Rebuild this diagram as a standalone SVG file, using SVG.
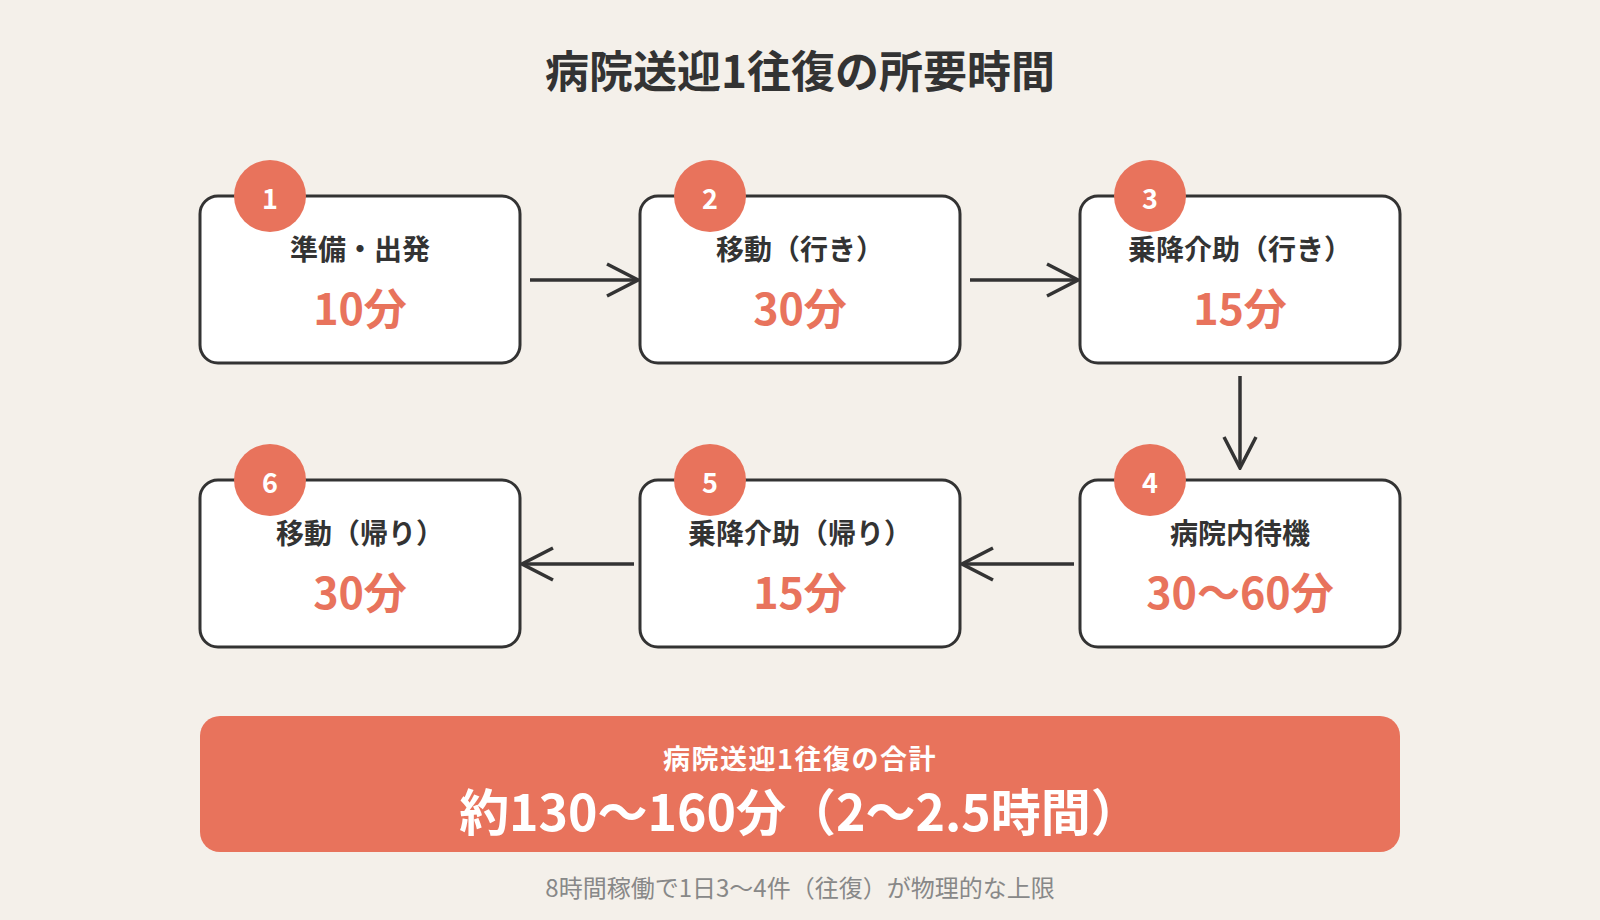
<svg xmlns="http://www.w3.org/2000/svg" width="1600" height="920" viewBox="0 0 1600 920">
<style>
text{font-family:"Noto Sans CJK JP","Noto Sans",sans-serif;text-anchor:middle}
.box{fill:#fff;stroke:#333;stroke-width:3}
.badge{fill:#E8735C}
.num{fill:#fff;font-size:27px;font-weight:700}
.lbl{fill:#333;font-size:28px;font-weight:700}
.val{fill:#E8735C;font-size:43px;font-weight:700}
.conn{stroke:#333;stroke-width:3.5;fill:none}
.title{fill:#333;font-size:44px;font-weight:700}
.sum1{fill:#fff;font-size:27px;font-weight:700;letter-spacing:1.5px}
.sum2{fill:#fff;font-size:50px;font-weight:700}
.foot{fill:#888;font-size:24px}
</style>
<defs>
<marker id="arr" viewBox="0 0 36 36" refX="34" refY="18" markerWidth="36" markerHeight="36" markerUnits="userSpaceOnUse" orient="auto">
<path d="M3,2 L34,18 L3,34" fill="none" stroke="#333" stroke-width="3.5"/>
</marker>
</defs>
<rect width="1600" height="920" fill="#F4F0EA"/>
<text class="title" x="800" y="88">病院送迎1往復の所要時間</text>
<g id="connectors">
<line class="conn" x1="530" y1="280" x2="638" y2="280" marker-end="url(#arr)"/>
<line class="conn" x1="970" y1="280" x2="1078" y2="280" marker-end="url(#arr)"/>
<line class="conn" x1="1240" y1="376" x2="1240" y2="468" marker-end="url(#arr)"/>
<line class="conn" x1="1074" y1="564" x2="962" y2="564" marker-end="url(#arr)"/>
<line class="conn" x1="634" y1="564" x2="522" y2="564" marker-end="url(#arr)"/>
</g>
<g id="step1">
<rect class="box" x="200" y="196" width="320" height="167" rx="18"/>
<circle class="badge" cx="270" cy="196" r="36"/>
<text class="num" x="270" y="209">1</text>
<text class="lbl" x="360" y="260">準備・出発</text>
<text class="val" x="360" y="325">10分</text>
</g>
<g id="step2">
<rect class="box" x="640" y="196" width="320" height="167" rx="18"/>
<circle class="badge" cx="710" cy="196" r="36"/>
<text class="num" x="710" y="209">2</text>
<text class="lbl" x="800" y="260">移動（行き）</text>
<text class="val" x="800" y="325">30分</text>
</g>
<g id="step3">
<rect class="box" x="1080" y="196" width="320" height="167" rx="18"/>
<circle class="badge" cx="1150" cy="196" r="36"/>
<text class="num" x="1150" y="209">3</text>
<text class="lbl" x="1240" y="260">乗降介助（行き）</text>
<text class="val" x="1240" y="325">15分</text>
</g>
<g id="step4">
<rect class="box" x="1080" y="480" width="320" height="167" rx="18"/>
<circle class="badge" cx="1150" cy="480" r="36"/>
<text class="num" x="1150" y="493">4</text>
<text class="lbl" x="1240" y="544">病院内待機</text>
<text class="val" x="1240" y="609">30〜60分</text>
</g>
<g id="step5">
<rect class="box" x="640" y="480" width="320" height="167" rx="18"/>
<circle class="badge" cx="710" cy="480" r="36"/>
<text class="num" x="710" y="493">5</text>
<text class="lbl" x="800" y="544">乗降介助（帰り）</text>
<text class="val" x="800" y="609">15分</text>
</g>
<g id="step6">
<rect class="box" x="200" y="480" width="320" height="167" rx="18"/>
<circle class="badge" cx="270" cy="480" r="36"/>
<text class="num" x="270" y="493">6</text>
<text class="lbl" x="360" y="544">移動（帰り）</text>
<text class="val" x="360" y="609">30分</text>
</g>
<g id="summary">
<rect x="200" y="716" width="1200" height="136" rx="20" fill="#E8735C"/>
<text class="sum1" x="800" y="769">病院送迎1往復の合計</text>
<text class="sum2" x="800" y="831">約130〜160分（2〜2.5時間）</text>
</g>
<text class="foot" x="800" y="897">8時間稼働で1日3〜4件（往復）が物理的な上限</text>
</svg>
